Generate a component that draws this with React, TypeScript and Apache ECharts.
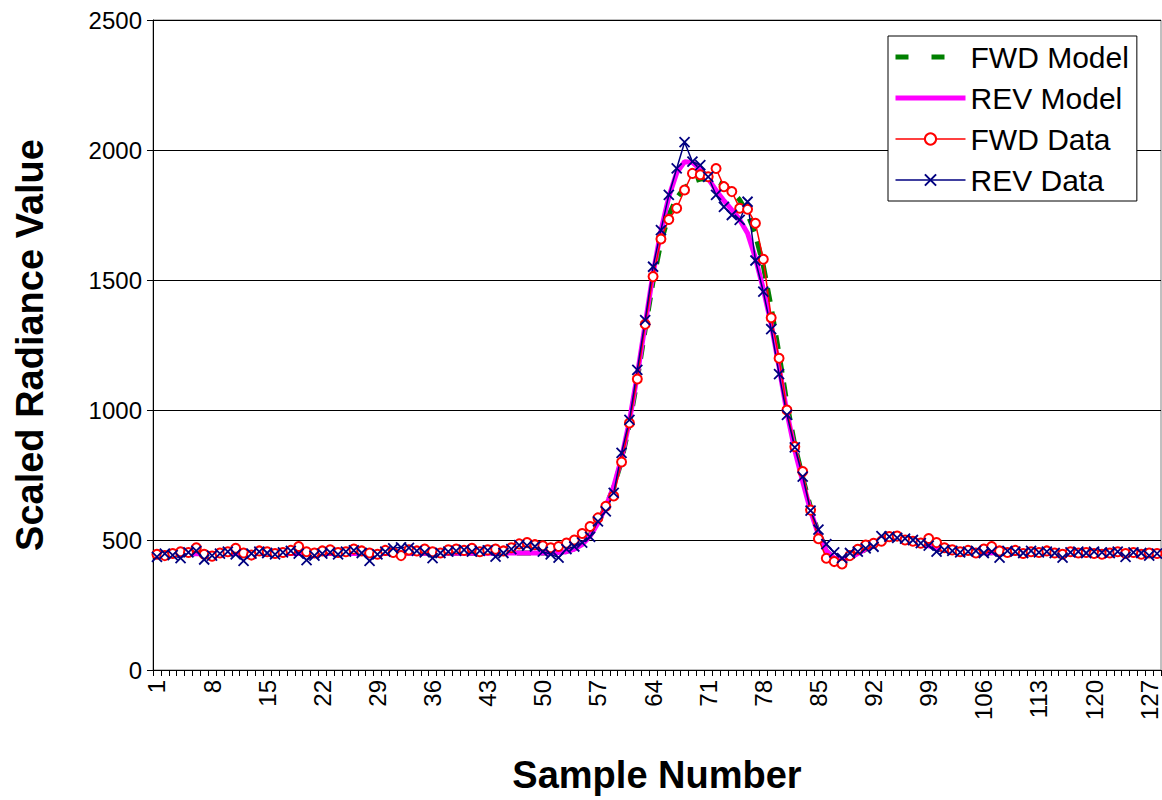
import React, { useEffect, useRef } from "react";
import * as echarts from "echarts";

const sampleNumbers: string[] = Array.from({ length: 128 }, (_, i) => String(i + 1));

const fwdModel: number[] = [
  447, 447, 447, 447, 447, 447, 447, 447, 447, 447,
  448, 448, 448, 448, 448, 448, 448, 448, 448, 448,
  448, 448, 448, 448, 448, 448, 448, 448, 448, 448,
  449, 449, 449, 449, 449, 449, 449, 449, 449, 449,
  449, 449, 449, 449, 450, 450, 450, 450, 450, 450,
  451, 452, 456, 466, 485, 520, 570, 630, 702, 805,
  945, 1118, 1310, 1495, 1645, 1750, 1815, 1855, 1878, 1888,
  1888, 1880, 1865, 1842, 1808, 1755, 1675, 1555, 1395, 1215,
  1025, 865, 740, 625, 525, 458, 428, 422, 430, 447,
  464, 481, 495, 504, 506, 503, 496, 487, 478, 470,
  464, 459, 455, 453, 452, 451, 451, 450, 450, 450,
  450, 450, 450, 450, 450, 450, 450, 450, 450, 450,
  450, 450, 450, 450, 450, 450, 450, 450,
];

const revModel: number[] = [
  447, 447, 447, 447, 447, 447, 447, 447, 447, 447,
  448, 448, 448, 448, 448, 448, 448, 448, 448, 448,
  448, 448, 448, 448, 448, 448, 448, 448, 448, 448,
  449, 449, 449, 449, 449, 449, 449, 449, 449, 449,
  449, 449, 449, 449, 450, 450, 450, 450, 450, 450,
  451, 452, 455, 465, 482, 515, 565, 628, 705, 815,
  958, 1135, 1330, 1525, 1690, 1820, 1912, 1955, 1952, 1925,
  1890, 1845, 1805, 1770, 1732, 1680, 1585, 1465, 1330, 1165,
  990, 845, 725, 612, 520, 458, 430, 425, 432, 448,
  465, 482, 496, 505, 507, 504, 497, 488, 478, 470,
  464, 459, 455, 453, 452, 451, 451, 450, 450, 450,
  450, 450, 450, 450, 450, 450, 450, 450, 450, 450,
  450, 450, 450, 450, 450, 450, 450, 450,
];

const fwdData: number[] = [
  445, 440, 448, 455, 452, 470, 445, 438, 450, 455,
  468, 450, 442, 458, 455, 448, 452, 460, 475, 455,
  450, 458, 462, 452, 455, 465, 458, 450, 445, 460,
  452, 440, 462, 458, 465, 455, 450, 462, 465, 460,
  468, 455, 462, 465, 458, 470, 485, 490, 482, 478,
  470, 475, 488, 500, 525, 552, 585, 630, 669, 800,
  950, 1119, 1330, 1513, 1658, 1733, 1776, 1846, 1910, 1905,
  1897, 1929, 1859, 1840, 1776, 1772, 1718, 1580, 1355, 1199,
  1000, 859, 763, 615, 505, 430, 417, 408, 440, 464,
  481, 487, 495, 513, 515, 500, 495, 488, 506, 490,
  470, 462, 455, 460, 450, 465, 475, 458, 452, 460,
  448, 455, 452, 458, 450, 445, 455, 450, 452, 448,
  445, 450, 455, 448, 452, 445, 450, 448,
];

const revData: number[] = [
  435, 448, 442, 430, 452, 458, 425, 440, 448, 455,
  445, 420, 448, 455, 450, 445, 452, 458, 448, 423,
  440, 448, 452, 445, 455, 460, 450, 420, 445, 455,
  468, 472, 470, 458, 452, 430, 450, 455, 458, 462,
  455, 458, 460, 436, 450, 465, 480, 478, 475, 455,
  445, 432, 465, 475, 490, 512, 572, 610, 681, 835,
  962, 1154, 1346, 1551, 1692, 1827, 1929, 2030, 1955, 1942,
  1897, 1827, 1781, 1750, 1731, 1801, 1575, 1455, 1311, 1138,
  981, 856, 744, 613, 540, 484, 452, 430, 450, 455,
  468, 474, 515, 513, 508, 505, 500, 488, 478, 455,
  462, 458, 452, 455, 458, 450, 455, 432, 458, 455,
  450, 458, 452, 455, 450, 432, 452, 455, 450, 455,
  452, 450, 455, 435, 452, 450, 440, 448,
];

const FONT = "'Liberation Sans', Arial, sans-serif";

export default function App() {
  const ref = useRef<HTMLDivElement>(null);

  useEffect(() => {
    if (!ref.current) return;
    const chart = echarts.init(ref.current, null, { renderer: "svg" });
    chart.setOption({
      animation: false,
      backgroundColor: "#ffffff",
      textStyle: { fontFamily: FONT },
      grid: {
        left: 153,
        right: 1,
        top: 20,
        bottom: 130,
        show: true,
        borderColor: "#808080",
        borderWidth: 1,
        backgroundColor: "transparent",
      },
      legend: {
        orient: "vertical",
        left: 888,
        top: 36,
        padding: [6, 8, 6, 5],
        itemWidth: 70,
        itemHeight: 14,
        itemGap: 11,
        borderColor: "#000000",
        borderWidth: 1,
        backgroundColor: "#ffffff",
        textStyle: { fontSize: 30, color: "#000000", fontFamily: FONT },
        data: [
          {
            name: "FWD Model",
            itemStyle: { color: "transparent", borderWidth: 0, opacity: 0 },
            lineStyle: { color: "#008000", width: 5, type: [13, 23] },
          },
          {
            name: "REV Model",
            itemStyle: { color: "transparent", borderWidth: 0, opacity: 0 },
            lineStyle: { color: "#FF00FF", width: 5 },
          },
          {
            name: "FWD Data",
            lineStyle: { color: "#FF0000", width: 1.5 },
          },
          {
            name: "REV Data",
            lineStyle: { color: "#000080", width: 1.5 },
          },
        ],
      },
      xAxis: {
        type: "category",
        data: sampleNumbers,
        boundaryGap: true,
        name: "Sample Number",
        nameLocation: "middle",
        nameGap: 86,
        nameTextStyle: { fontSize: 38, fontWeight: "bold", color: "#000000", fontFamily: FONT },
        axisLine: { lineStyle: { color: "#000000", width: 1 } },
        axisTick: { show: true, interval: 0, length: 6, lineStyle: { color: "#000000" } },
        axisLabel: {
          interval: 6,
          rotate: 90,
          margin: 10,
          fontSize: 24,
          color: "#000000",
          fontFamily: FONT,
        },
        splitLine: { show: false },
      },
      yAxis: {
        type: "value",
        min: 0,
        max: 2500,
        interval: 500,
        name: "Scaled Radiance Value",
        nameLocation: "middle",
        nameGap: 104,
        nameTextStyle: { fontSize: 38, fontWeight: "bold", color: "#000000", fontFamily: FONT },
        axisLine: { show: true, lineStyle: { color: "#000000", width: 1 } },
        axisTick: { show: true, length: 6, lineStyle: { color: "#000000" } },
        axisLabel: {
          margin: 11,
          fontSize: 24,
          color: "#000000",
          fontFamily: FONT,
          formatter: (v: number) => String(v),
        },
        splitLine: { show: true, lineStyle: { color: "#000000", width: 1 } },
      },
      series: [
        {
          name: "FWD Model",
          type: "line",
          data: fwdModel,
          symbol: "none",
          lineStyle: { color: "#008000", width: 5, type: [14, 10] },
          itemStyle: { color: "#008000" },
        },
        {
          name: "REV Model",
          type: "line",
          data: revModel,
          symbol: "none",
          lineStyle: { color: "#FF00FF", width: 5 },
          itemStyle: { color: "#FF00FF" },
        },
        {
          name: "FWD Data",
          type: "line",
          data: fwdData,
          symbol: "emptyCircle",
          symbolSize: 9,
          showAllSymbol: true,
          lineStyle: { color: "#FF0000", width: 1.5 },
          itemStyle: { color: "#FF0000", borderColor: "#FF0000", borderWidth: 1.5 },
        },
        {
          name: "REV Data",
          type: "line",
          data: revData,
          symbol: "path://M0,0L10,10M10,0L0,10",
          symbolSize: 10,
          showAllSymbol: true,
          lineStyle: { color: "#000080", width: 1.5 },
          itemStyle: { color: "#000080", borderColor: "#000080", borderWidth: 1.8 },
        },
      ],
    });
    return () => chart.dispose();
  }, []);

  return (
    <div
      ref={ref}
      style={{ position: "fixed", left: 0, top: 0, width: 1162, height: 800 }}
    />
  );
}
